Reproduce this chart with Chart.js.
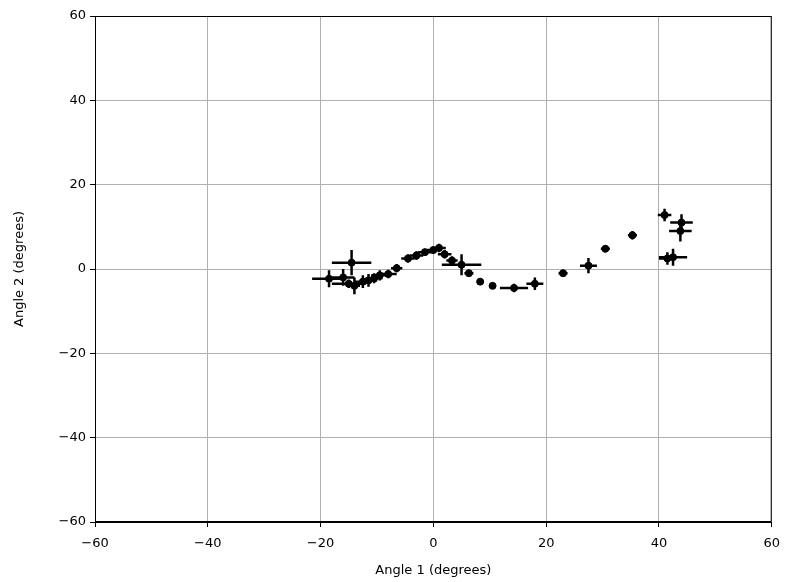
<!DOCTYPE html>
<html>
<head>
<meta charset="utf-8">
<script src="https://cdn.jsdelivr.net/npm/chart.js@4"></script>
<style>
  html, body { margin: 0; padding: 0; background: #fff; }
  #wrap { width: 789px; height: 582px; }
</style>
</head>
<body>
<div id="wrap"><canvas id="chart" width="789" height="582"></canvas></div>
<script>
// angle pairs, with their error bar half-widths
const angle1 = [-18.5, -16, -15, -14.5, -14, -12.5, -11.5, -10.5, -9.5, -8, -6.5, -4.5, -3, -1.5, 0, 1, 2, 3.3, 5, 6.3, 8.3, 10.5, 14.3, 18, 23, 27.5, 30.5, 35.3, 41, 44, 43.8, 41.5, 42.5];
const angle2 = [-2.3, -2, -3.5, 1.5, -4, -3, -2.7, -2.2, -1.5, -1.2, 0.2, 2.5, 3.2, 4, 4.5, 5, 3.5, 2, 1, -1, -3, -4, -4.5, -3.5, -1, 0.8, 4.8, 8, 12.8, 11, 9, 2.5, 2.8];
const err1 = [3, 2, 3, 3.5, 1, 1.5, 1.5, 1.5, 1.5, 1.5, 1, 1.2, 1.2, 1.2, 1.2, 1.2, 1.2, 1, 3.5, 0.8, 0.6, 0.6, 2.5, 1.5, 0.8, 1.5, 0.8, 0.8, 1.2, 2, 2, 1.5, 2.5];
const err2 = [2, 2, 1, 3, 2, 1.5, 1.5, 1.2, 1.2, 1, 1, 1, 1, 0.8, 0.8, 1, 1, 1, 2.5, 0.8, 0.6, 0.6, 1, 1.5, 0.8, 1.8, 0.8, 1, 1.5, 2, 2.5, 1.5, 2];
const ticks = [-60, -40, -20, 0, 20, 40, 60];

const points = angle1.map((a, i) => ({ x: a, y: angle2[i] }));
const font = { family: "DejaVu Sans", size: 13 };
const minus = v => String(v).replace("-", "\u2212");

const errorBars = {
  id: "errorBars",
  beforeDatasetsDraw(chart) {
    const { ctx, scales: { x, y } } = chart;
    ctx.save();
    ctx.strokeStyle = "#000";
    ctx.lineWidth = 2.5;
    ctx.beginPath();
    angle1.forEach((a, i) => {
      const px = x.getPixelForValue(a), py = y.getPixelForValue(angle2[i]);
      ctx.moveTo(x.getPixelForValue(a - err1[i]), py);
      ctx.lineTo(x.getPixelForValue(a + err1[i]), py);
      ctx.moveTo(px, y.getPixelForValue(angle2[i] - err2[i]));
      ctx.lineTo(px, y.getPixelForValue(angle2[i] + err2[i]));
    });
    ctx.stroke();
    ctx.restore();
  },
  afterDraw(chart) {
    const { ctx, chartArea: a } = chart;
    ctx.save();
    ctx.strokeStyle = "#000";
    ctx.lineWidth = 1;
    ctx.strokeRect(a.left + 0.5, a.top + 0.5, a.right - a.left - 1, a.bottom - a.top - 1);
    ctx.restore();
  }
};

new Chart(document.getElementById("chart"), {
  type: "scatter",
  data: {
    datasets: [{
      data: points,
      backgroundColor: "#000",
      borderColor: "#000",
      pointRadius: 3.5,
      pointHoverRadius: 3.5
    }]
  },
  options: {
    responsive: false,
    animation: false,
    layout: { padding: { top: 16, right: 16, left: 0, bottom: 0 } },
    plugins: { legend: { display: false }, tooltip: { enabled: false } },
    scales: {
      x: {
        min: -60, max: 60,
        afterBuildTicks: s => { s.ticks = ticks.map(v => ({ value: v })); },
        afterFit: s => { s.height = 60; },
        grid: { color: "#b0b0b0", tickColor: "#000", tickLength: 5, lineWidth: 1 },
        border: { color: "#000" },
        ticks: { color: "#000", font, padding: 9, maxRotation: 0, callback: v => minus(v) },
        title: { display: true, text: "Angle 1 (degrees)", color: "#000", font, padding: { top: 2 } }
      },
      y: {
        min: -60, max: 60,
        afterBuildTicks: s => { s.ticks = ticks.map(v => ({ value: v })); },
        afterFit: s => { s.width = 95; },
        grid: { color: "#b0b0b0", tickColor: "#000", tickLength: 5, lineWidth: 1 },
        border: { color: "#000" },
        ticks: { color: "#000", font, padding: 4, callback: v => minus(v) },
        title: { display: true, text: "Angle 2 (degrees)", color: "#000", font, padding: { top: 12, bottom: 0 } }
      }
    }
  },
  plugins: [errorBars]
});
</script>
</body>
</html>
